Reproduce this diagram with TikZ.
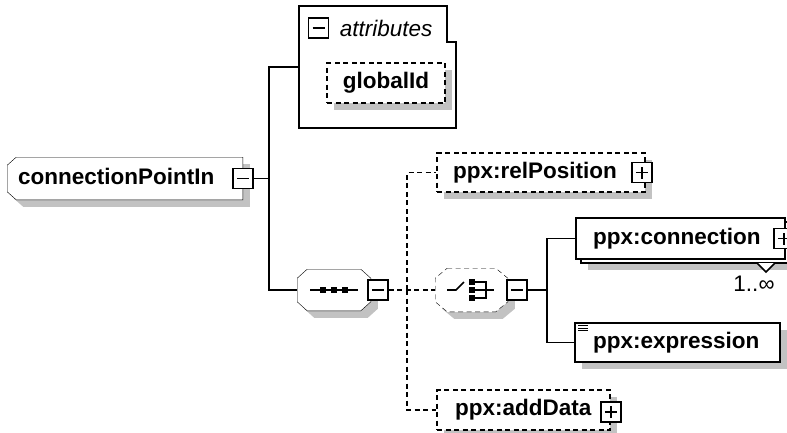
\documentclass[tikz,border=0pt]{standalone}
\usepackage{fontspec}
\setmainfont{Liberation Sans}
\usetikzlibrary{shadows,backgrounds}
\definecolor{shd}{RGB}{194,194,194}
\tikzset{
  elemfont/.style={font=\bfseries\fontsize{22.5pt}{26pt}\selectfont},
  elem/.style={draw, fill=white, rectangle, inner ysep=0pt, text height=16pt, text depth=5pt, align=left, elemfont},
  opt/.style={dash pattern=on 5pt off 3.5pt},
  shadowed/.style={general shadow={fill=shd, shadow xshift=7pt, shadow yshift=-7pt}},
  ghost/.style={draw=none, fill=none, rectangle, inner sep=0pt},
  pmbox/.style={draw, fill=white, rectangle, minimum size=20pt, inner sep=0pt, solid},
  minusbox/.style={pmbox, path picture={\draw[line width=1.6pt] ([xshift=4pt]path picture bounding box.west) -- ([xshift=-4pt]path picture bounding box.east);}},
  plusbox/.style={pmbox, path picture={\draw[line width=1.6pt] ([xshift=4pt]path picture bounding box.west) -- ([xshift=-4pt]path picture bounding box.east) ([yshift=4pt]path picture bounding box.south) -- ([yshift=-4pt]path picture bounding box.north);}},
}
\begin{document}
\begin{tikzpicture}[x=1pt,y=-1pt,line width=1.6pt]
\useasboundingbox (0,0) rectangle (787,432);

% root element
\node[ghost, elemfont, text height=16pt, text depth=5pt, align=left, minimum height=41pt, inner xsep=10pt, text width=214pt] (root) at (125,178.5) {connectionPointIn};
\node[minusbox] (rootpm) at (root.east) {};

% attributes group
\node[ghost, minimum width=155pt, minimum height=120pt] (attr) at (377.5,67) {};
\draw (attr.north west) -- ([xshift=-9pt]attr.north east) -- ([xshift=-9pt,yshift=-36pt]attr.north east) -- ([yshift=-36pt]attr.north east) -- (attr.south east) -- (attr.south west) -- cycle;
\node[minusbox] (attrpm) at (318.5,28) {};
\node[anchor=west, inner sep=0pt, font=\itshape\fontsize{22.5pt}{26pt}\selectfont] (attrlbl) at (339,28) {attributes};
\node[elem, opt, shadowed, minimum width=118pt, minimum height=40pt, align=center] (gid) at (386,83) {globalId};

% sequence compositor
\node[ghost, minimum width=72pt, minimum height=40pt] (seq) at (334,290) {};
\node[minusbox] (seqpm) at (378,290) {};
\begin{scope}[shift={(seq.center)}]
  \draw (-24,0) -- (24,0);
  \foreach \dx in {-11,0,11} \fill (\dx-3,-3) rectangle (\dx+3,3);
\end{scope}

% choice compositor
\node[ghost, minimum width=71pt, minimum height=42pt] (choice) at (471.5,290) {};
\node[minusbox] (choicepm) at (517,290) {};
\begin{scope}[shift={(choice.center)}]
  \draw (-24.5,0) -- (-15.5,0) -- (-7.5,-8);
  \foreach \dy in {-8,0,8} \fill (-3,\dy-3) rectangle (3,\dy+3);
  \draw (3,-8) -- (14.5,-8) -- (14.5,8) -- (3,8);
  \draw (3,0) -- (22.5,0);
\end{scope}

% elements
\node[elem, opt, shadowed, minimum height=39pt, inner xsep=16pt, text width=176pt] (relpos) at (541,172.5) {ppx:relPosition};
\node[plusbox] (relpospm) at ([xshift=-4pt]relpos.east) {};

\node[elem, opt, shadowed, minimum height=40pt, inner xsep=18pt, text width=137pt] (adddata) at (523.5,410) {ppx:addData};
\node[plusbox] (adddatapm) at ([yshift=-2pt]adddata.east) {};

\node[elem, general shadow={fill=shd, shadow xshift=12pt, shadow yshift=-11pt}, general shadow={fill=white, draw=black, shadow xshift=5pt, shadow yshift=-4pt}, minimum height=41pt, inner xsep=17pt, text width=175pt] (conn) at (680.5,238.5) {ppx:connection};
\node[plusbox] (connpm) at ([xshift=-2pt]conn.east) {};
\draw[fill=white] (757,263) -- (766,272) -- (775,263);
\node[inner sep=0pt, font=\fontsize{22.5pt}{26pt}\selectfont] (mult) at (754,284) {1..∞};

\node[elem, shadowed, minimum height=39pt, inner xsep=18pt, text width=169pt] (expr) at (677.5,342.5) {ppx:expression};
\begin{scope}[shift={(expr.north west)}, line width=0.9pt]
  \draw (4,3.5) -- (14,3.5) (4,5.8) -- (14,5.8) (4,8.1) -- (14,8.1);
\end{scope}

% outlines of compositors and root on the background
\begin{scope}[on background layer]
  \path[draw, fill=white, shadowed] ([xshift=9pt]root.north west) -- (root.north east) -- (root.south east) -- ([xshift=9pt]root.south west) -- ([yshift=8pt]root.south west) -- ([yshift=-8pt]root.north west) -- cycle;
  \path[draw, fill=white, shadowed] ([xshift=10pt]seq.north west) -- ([xshift=-10pt]seq.north east) -- ([yshift=-9pt]seq.north east) -- ([yshift=9pt]seq.south east) -- ([xshift=-10pt]seq.south east) -- ([xshift=10pt]seq.south west) -- ([yshift=9pt]seq.south west) -- ([yshift=-9pt]seq.north west) -- cycle;
  \path[draw, fill=white, opt, shadowed] ([xshift=12pt]choice.north west) -- ([xshift=-12pt]choice.north east) -- ([yshift=-10pt]choice.north east) -- ([yshift=10pt]choice.south east) -- ([xshift=-12pt]choice.south east) -- ([xshift=12pt]choice.south west) -- ([yshift=10pt]choice.south west) -- ([yshift=-10pt]choice.north west) -- cycle;
\end{scope}

% connectors
\coordinate (b1) at (269,178.5);
\draw (rootpm.east) -- (b1);
\draw (b1) |- (attr.west);
\draw (b1) |- (seq.west);
\coordinate (b2) at (407,290);
\draw[opt] (seqpm.east) -- (b2) -- (choice.west);
\draw[opt] (b2) |- (relpos.west);
\draw[opt] (b2) |- (adddata.west);
\coordinate (b3) at (547,290);
\draw (choicepm.east) -- (b3);
\draw (b3) |- (conn.west);
\draw (b3) |- (expr.west);
\end{tikzpicture}
\end{document}
